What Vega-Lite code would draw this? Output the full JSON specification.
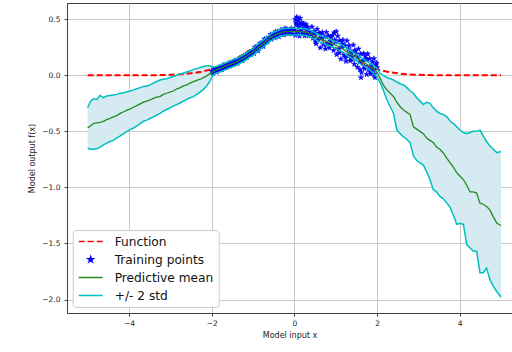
{
  "$schema": "https://vega.github.io/schema/vega-lite/v6.json",
  "width": 445,
  "height": 310,
  "autosize": {"type": "none"},
  "padding": {"left": 67, "top": 3, "right": 0, "bottom": 39},
  "background": "white",
  "datasets": {
    "curve": [
      {"x":-5.0,"lo":-0.65,"m":-0.47,"hi":-0.29},{"x":-4.93,"lo":-0.66,"m":-0.45,"hi":-0.23},{"x":-4.86,"lo":-0.66,"m":-0.43,"hi":-0.21},{"x":-4.78,"lo":-0.655,"m":-0.425,"hi":-0.215},{"x":-4.7,"lo":-0.64,"m":-0.42,"hi":-0.18},{"x":-4.62,"lo":-0.62,"m":-0.41,"hi":-0.2},{"x":-4.54,"lo":-0.605,"m":-0.395,"hi":-0.185},{"x":-4.46,"lo":-0.59,"m":-0.385,"hi":-0.18},{"x":-4.38,"lo":-0.58,"m":-0.37,"hi":-0.175},{"x":-4.3,"lo":-0.56,"m":-0.36,"hi":-0.17},{"x":-4.21,"lo":-0.54,"m":-0.34,"hi":-0.16},{"x":-4.13,"lo":-0.52,"m":-0.325,"hi":-0.155},{"x":-4.05,"lo":-0.5,"m":-0.31,"hi":-0.146},{"x":-3.97,"lo":-0.485,"m":-0.3,"hi":-0.14},{"x":-3.89,"lo":-0.47,"m":-0.285,"hi":-0.13},{"x":-3.81,"lo":-0.45,"m":-0.27,"hi":-0.12},{"x":-3.73,"lo":-0.43,"m":-0.255,"hi":-0.11},{"x":-3.65,"lo":-0.41,"m":-0.24,"hi":-0.1},{"x":-3.57,"lo":-0.4,"m":-0.23,"hi":-0.095},{"x":-3.49,"lo":-0.385,"m":-0.22,"hi":-0.085},{"x":-3.41,"lo":-0.37,"m":-0.205,"hi":-0.07},{"x":-3.33,"lo":-0.355,"m":-0.195,"hi":-0.055},{"x":-3.25,"lo":-0.34,"m":-0.19,"hi":-0.042},{"x":-3.17,"lo":-0.32,"m":-0.17,"hi":-0.035},{"x":-3.09,"lo":-0.305,"m":-0.16,"hi":-0.03},{"x":-3.01,"lo":-0.29,"m":-0.15,"hi":-0.02},{"x":-2.93,"lo":-0.275,"m":-0.14,"hi":-0.01},{"x":-2.84,"lo":-0.26,"m":-0.12,"hi":0.003},{"x":-2.76,"lo":-0.245,"m":-0.11,"hi":0.012},{"x":-2.68,"lo":-0.23,"m":-0.095,"hi":0.02},{"x":-2.6,"lo":-0.215,"m":-0.085,"hi":0.03},{"x":-2.52,"lo":-0.2,"m":-0.07,"hi":0.04},{"x":-2.44,"lo":-0.19,"m":-0.057,"hi":0.053},{"x":-2.36,"lo":-0.17,"m":-0.045,"hi":0.06},{"x":-2.28,"lo":-0.15,"m":-0.035,"hi":0.07},{"x":-2.2,"lo":-0.125,"m":-0.02,"hi":0.078},{"x":-2.12,"lo":-0.095,"m":-0.005,"hi":0.085},{"x":-2.04,"lo":-0.05,"m":0.015,"hi":0.085},{"x":-1.96,"lo":0.005,"m":0.035,"hi":0.07},{"x":-1.88,"lo":0.022,"m":0.05,"hi":0.08},{"x":-1.8,"lo":0.03,"m":0.06,"hi":0.09},
      {"x":-1.7,"lo":0.045,"m":0.075,"hi":0.105},{"x":-1.6,"lo":0.06,"m":0.09,"hi":0.12},{"x":-1.5,"lo":0.075,"m":0.105,"hi":0.135},{"x":-1.4,"lo":0.09,"m":0.12,"hi":0.15},{"x":-1.3,"lo":0.11,"m":0.14,"hi":0.17},{"x":-1.2,"lo":0.13,"m":0.16,"hi":0.19},{"x":-1.1,"lo":0.155,"m":0.185,"hi":0.215},{"x":-1.0,"lo":0.18,"m":0.21,"hi":0.24},{"x":-0.9,"lo":0.21,"m":0.24,"hi":0.27},{"x":-0.8,"lo":0.24,"m":0.27,"hi":0.3},{"x":-0.7,"lo":0.27,"m":0.3,"hi":0.33},{"x":-0.6,"lo":0.3,"m":0.33,"hi":0.36},{"x":-0.5,"lo":0.325,"m":0.355,"hi":0.385},{"x":-0.4,"lo":0.34,"m":0.37,"hi":0.4},{"x":-0.3,"lo":0.355,"m":0.385,"hi":0.415},{"x":-0.2,"lo":0.36,"m":0.39,"hi":0.42},{"x":-0.1,"lo":0.36,"m":0.39,"hi":0.42},{"x":0.0,"lo":0.36,"m":0.39,"hi":0.42},{"x":0.1,"lo":0.36,"m":0.39,"hi":0.42},{"x":0.2,"lo":0.358,"m":0.388,"hi":0.418},{"x":0.3,"lo":0.354,"m":0.384,"hi":0.414},{"x":0.4,"lo":0.34,"m":0.37,"hi":0.4},{"x":0.5,"lo":0.32,"m":0.35,"hi":0.38},{"x":0.6,"lo":0.3,"m":0.33,"hi":0.36},{"x":0.7,"lo":0.285,"m":0.315,"hi":0.345},{"x":0.8,"lo":0.27,"m":0.3,"hi":0.33},{"x":0.9,"lo":0.255,"m":0.285,"hi":0.315},{"x":1.0,"lo":0.24,"m":0.27,"hi":0.3},{"x":1.1,"lo":0.22,"m":0.25,"hi":0.28},{"x":1.2,"lo":0.2,"m":0.23,"hi":0.26},{"x":1.3,"lo":0.17,"m":0.2,"hi":0.23},{"x":1.4,"lo":0.15,"m":0.18,"hi":0.21},{"x":1.5,"lo":0.13,"m":0.16,"hi":0.19},{"x":1.6,"lo":0.1,"m":0.13,"hi":0.16},{"x":1.7,"lo":0.08,"m":0.11,"hi":0.14},{"x":1.8,"lo":0.055,"m":0.085,"hi":0.115},{"x":1.9,"lo":0.025,"m":0.06,"hi":0.09},{"x":1.98,"lo":-0.005,"m":0.035,"hi":0.07},
      {"x":2.07,"lo":-0.06,"m":-0.02,"hi":0.018},{"x":2.15,"lo":-0.13,"m":-0.086,"hi":0.0},{"x":2.24,"lo":-0.22,"m":-0.13,"hi":-0.02},{"x":2.32,"lo":-0.28,"m":-0.16,"hi":-0.03},{"x":2.4,"lo":-0.34,"m":-0.19,"hi":-0.042},{"x":2.48,"lo":-0.49,"m":-0.24,"hi":-0.06},{"x":2.56,"lo":-0.52,"m":-0.28,"hi":-0.075},{"x":2.64,"lo":-0.55,"m":-0.31,"hi":-0.086},{"x":2.72,"lo":-0.57,"m":-0.33,"hi":-0.11},{"x":2.8,"lo":-0.6,"m":-0.35,"hi":-0.14},{"x":2.88,"lo":-0.72,"m":-0.46,"hi":-0.16},{"x":2.96,"lo":-0.76,"m":-0.48,"hi":-0.2},{"x":3.04,"lo":-0.78,"m":-0.5,"hi":-0.23},{"x":3.12,"lo":-0.8,"m":-0.52,"hi":-0.26},{"x":3.2,"lo":-0.86,"m":-0.56,"hi":-0.24},{"x":3.28,"lo":-0.93,"m":-0.58,"hi":-0.25},{"x":3.36,"lo":-1.02,"m":-0.6,"hi":-0.29},{"x":3.44,"lo":-1.04,"m":-0.64,"hi":-0.32},{"x":3.52,"lo":-1.08,"m":-0.66,"hi":-0.34},{"x":3.6,"lo":-1.1,"m":-0.69,"hi":-0.35},{"x":3.69,"lo":-1.14,"m":-0.74,"hi":-0.37},{"x":3.77,"lo":-1.18,"m":-0.78,"hi":-0.41},{"x":3.85,"lo":-1.25,"m":-0.82,"hi":-0.43},{"x":3.93,"lo":-1.33,"m":-0.87,"hi":-0.46},{"x":4.01,"lo":-1.32,"m":-0.9,"hi":-0.49},{"x":4.09,"lo":-1.33,"m":-0.93,"hi":-0.51},{"x":4.17,"lo":-1.51,"m":-0.98,"hi":-0.52},{"x":4.25,"lo":-1.54,"m":-1.04,"hi":-0.51},{"x":4.33,"lo":-1.57,"m":-1.04,"hi":-0.5},{"x":4.41,"lo":-1.57,"m":-1.05,"hi":-0.5},{"x":4.49,"lo":-1.76,"m":-1.14,"hi":-0.49},{"x":4.57,"lo":-1.76,"m":-1.15,"hi":-0.54},{"x":4.65,"lo":-1.72,"m":-1.17,"hi":-0.59},{"x":4.73,"lo":-1.82,"m":-1.2,"hi":-0.63},{"x":4.81,"lo":-1.88,"m":-1.26,"hi":-0.66},{"x":4.9,"lo":-1.93,"m":-1.32,"hi":-0.69},{"x":5.0,"lo":-1.98,"m":-1.34,"hi":-0.68}
    ],
    "func": [
      {"x":-5,"f":0.0},{"x":-4.5,"f":0.0},{"x":-4,"f":0.0001},{"x":-3.5,"f":0.0009},{"x":-3.25,"f":0.002},{"x":-3,"f":0.0044},{"x":-2.75,"f":0.0091},{"x":-2.5,"f":0.0175},{"x":-2.25,"f":0.0317},{"x":-2,"f":0.054},{"x":-1.75,"f":0.0863},{"x":-1.5,"f":0.1295},{"x":-1.25,"f":0.1826},{"x":-1,"f":0.242},{"x":-0.75,"f":0.3011},{"x":-0.5,"f":0.3521},{"x":-0.25,"f":0.3867},{"x":0,"f":0.3989},{"x":0.25,"f":0.3867},{"x":0.5,"f":0.3521},{"x":0.75,"f":0.3011},{"x":1,"f":0.242},{"x":1.25,"f":0.1826},{"x":1.5,"f":0.1295},{"x":1.75,"f":0.0863},{"x":2,"f":0.054},{"x":2.25,"f":0.0317},{"x":2.5,"f":0.0175},{"x":2.75,"f":0.0091},{"x":3,"f":0.0044},{"x":3.25,"f":0.002},{"x":3.5,"f":0.0009},{"x":4,"f":0.0001},{"x":4.5,"f":0.0},{"x":5,"f":0.0}
    ],
    "train": [
      {"x":-2.0,"y":0.036},{"x":-1.975,"y":0.018},{"x":-1.95,"y":0.056},{"x":-1.925,"y":0.037},{"x":-1.9,"y":0.057},{"x":-1.875,"y":0.029},{"x":-1.85,"y":0.055},{"x":-1.825,"y":0.072},{"x":-1.8,"y":0.05},{"x":-1.775,"y":0.072},
      {"x":-1.75,"y":0.05},{"x":-1.725,"y":0.091},{"x":-1.7,"y":0.069},{"x":-1.675,"y":0.093},{"x":-1.65,"y":0.071},{"x":-1.625,"y":0.09},{"x":-1.6,"y":0.088},{"x":-1.575,"y":0.113},{"x":-1.55,"y":0.084},{"x":-1.525,"y":0.111},
      {"x":-1.5,"y":0.111},{"x":-1.475,"y":0.093},{"x":-1.45,"y":0.131},{"x":-1.425,"y":0.112},{"x":-1.4,"y":0.132},{"x":-1.375,"y":0.105},{"x":-1.35,"y":0.132},{"x":-1.325,"y":0.151},{"x":-1.3,"y":0.13},{"x":-1.275,"y":0.153},
      {"x":-1.25,"y":0.132},{"x":-1.225,"y":0.175},{"x":-1.2,"y":0.154},{"x":-1.175,"y":0.18},{"x":-1.15,"y":0.161},{"x":-1.125,"y":0.183},{"x":-1.1,"y":0.183},{"x":-1.075,"y":0.21},{"x":-1.05,"y":0.184},{"x":-1.025,"y":0.214},
      {"x":-1.0,"y":0.219},{"x":-0.975,"y":0.194},{"x":-0.95,"y":0.252},{"x":-0.925,"y":0.227},{"x":-0.9,"y":0.258},{"x":-0.875,"y":0.218},{"x":-0.85,"y":0.258},{"x":-0.825,"y":0.287},{"x":-0.8,"y":0.255},{"x":-0.775,"y":0.29},
      {"x":-0.75,"y":0.258},{"x":-0.725,"y":0.323},{"x":-0.7,"y":0.291},{"x":-0.675,"y":0.329},{"x":-0.65,"y":0.297},{"x":-0.625,"y":0.329},{"x":-0.6,"y":0.327},{"x":-0.575,"y":0.365},{"x":-0.55,"y":0.322},{"x":-0.525,"y":0.364},
      {"x":-0.5,"y":0.364},{"x":-0.475,"y":0.335},{"x":-0.45,"y":0.39},{"x":-0.425,"y":0.36},{"x":-0.4,"y":0.388},{"x":-0.375,"y":0.344},{"x":-0.35,"y":0.381},{"x":-0.325,"y":0.405},{"x":-0.3,"y":0.37},{"x":-0.275,"y":0.398},
      {"x":-0.25,"y":0.361},{"x":-0.225,"y":0.419},{"x":-0.2,"y":0.381},{"x":-0.175,"y":0.411},{"x":-0.15,"y":0.372},{"x":-0.125,"y":0.396},{"x":-0.1,"y":0.387},{"x":-0.075,"y":0.419},{"x":-0.05,"y":0.369},{"x":-0.025,"y":0.405},
      {"x":0.0,"y":0.411},{"x":0.025,"y":0.358},{"x":0.05,"y":0.453},{"x":0.075,"y":0.382},{"x":0.1,"y":0.432},{"x":0.125,"y":0.35},{"x":0.15,"y":0.397},{"x":0.175,"y":0.446},{"x":0.2,"y":0.37},{"x":0.225,"y":0.417},
      {"x":0.25,"y":0.352},{"x":0.275,"y":0.456},{"x":0.3,"y":0.373},{"x":0.325,"y":0.43},{"x":0.35,"y":0.353},{"x":0.375,"y":0.388},{"x":0.4,"y":0.366},{"x":0.425,"y":0.432},{"x":0.45,"y":0.332},{"x":0.475,"y":0.39},
      {"x":0.5,"y":0.374},{"x":0.525,"y":0.281},{"x":0.55,"y":0.412},{"x":0.575,"y":0.319},{"x":0.6,"y":0.378},{"x":0.625,"y":0.246},{"x":0.65,"y":0.331},{"x":0.675,"y":0.383},{"x":0.7,"y":0.275},{"x":0.725,"y":0.343},
      {"x":0.75,"y":0.236},{"x":0.775,"y":0.384},{"x":0.8,"y":0.276},{"x":0.825,"y":0.352},{"x":0.85,"y":0.245},{"x":0.875,"y":0.305},{"x":0.9,"y":0.277},{"x":0.925,"y":0.357},{"x":0.95,"y":0.222},{"x":0.975,"y":0.314},
      {"x":1.0,"y":0.3},{"x":1.025,"y":0.185},{"x":1.05,"y":0.35},{"x":1.075,"y":0.235},{"x":1.1,"y":0.31},{"x":1.125,"y":0.145},{"x":1.15,"y":0.25},{"x":1.175,"y":0.315},{"x":1.2,"y":0.18},{"x":1.225,"y":0.263},
      {"x":1.25,"y":0.125},{"x":1.275,"y":0.308},{"x":1.3,"y":0.17},{"x":1.325,"y":0.265},{"x":1.35,"y":0.13},{"x":1.375,"y":0.205},{"x":1.4,"y":0.17},{"x":1.425,"y":0.27},{"x":1.45,"y":0.1},{"x":1.475,"y":0.215},
      {"x":1.5,"y":0.19},{"x":1.525,"y":0.073},{"x":1.55,"y":0.235},{"x":1.575,"y":0.118},{"x":1.6,"y":0.19},{"x":1.625,"y":0.025},{"x":1.65,"y":0.13},{"x":1.675,"y":0.195},{"x":1.7,"y":0.06},{"x":1.725,"y":0.144},
      {"x":1.75,"y":0.008},{"x":1.775,"y":0.191},{"x":1.8,"y":0.055},{"x":1.825,"y":0.149},{"x":1.85,"y":0.013},{"x":1.875,"y":0.086},{"x":1.9,"y":0.05},{"x":1.925,"y":0.15},{"x":1.95,"y":-0.02},{"x":1.975,"y":0.095},
      {"x":2.0,"y":0.07},
      {"x":0.06,"y":0.52},{"x":0.02,"y":0.5},{"x":0.1,"y":0.49},{"x":0.14,"y":0.51},{"x":0.18,"y":0.47},{"x":0.22,"y":0.46},{"x":0.27,"y":0.44},{"x":0.31,"y":0.41},{"x":0.04,"y":0.47},{"x":0.12,"y":0.46},
      {"x":0.5125,"y":0.3},{"x":0.6375,"y":0.36},{"x":0.7625,"y":0.28},{"x":0.8875,"y":0.34},{"x":0.9625,"y":0.38},{"x":1.0125,"y":0.39},{"x":1.0875,"y":0.2},{"x":1.1625,"y":0.28},{"x":1.2375,"y":0.16},{"x":1.3125,"y":0.23},
      {"x":1.3875,"y":0.14},{"x":1.4625,"y":0.22},{"x":1.5375,"y":0.16},{"x":1.6125,"y":-0.02},{"x":1.6875,"y":0.08},{"x":1.7625,"y":0.14},{"x":1.8375,"y":0.03},{"x":1.8875,"y":0.12},{"x":1.9375,"y":0.01},{"x":1.9875,"y":0.11},
      {"x":1.5875,"y":0.05},{"x":1.7125,"y":0.17}
    ]
  },
  "encoding": {
    "x": {
      "field": "x", "type": "quantitative",
      "scale": {"domain": [-5.5, 5.265], "nice": false, "zero": false},
      "axis": {"values": [-4, -2, 0, 2, 4], "format": "d", "title": "Model input x", "labelPadding": 3, "titlePadding": 5}
    }
  },
  "layer": [
    {
      "data": {"name": "curve"},
      "mark": {"type": "area", "color": "#d5eaf1", "opacity": 1},
      "encoding": {
        "y": {"field": "lo", "type": "quantitative", "title": "Model output f(x)",
              "scale": {"domain": [-2.12, 0.645], "nice": false, "zero": false},
              "axis": {"values": [-2, -1.5, -1, -0.5, 0, 0.5], "format": ".1f", "labelPadding": 4, "titlePadding": 5}},
        "y2": {"field": "hi"}
      }
    },
    {
      "data": {"name": "func"},
      "mark": {"type": "line", "color": "#ff0000", "strokeWidth": 2, "strokeDash": [6, 3]},
      "encoding": {"y": {"field": "f", "type": "quantitative", "title": "Model output f(x)"}}
    },
    {
      "data": {"name": "train"},
      "transform": [{"calculate": "'Training points'", "as": "s"}],
      "mark": {"type": "point", "filled": true, "opacity": 1, "size": 576, "strokeWidth": 0.6},
      "encoding": {
        "y": {"field": "y", "type": "quantitative", "title": "Model output f(x)"},
        "fill": {"field": "s", "type": "nominal",
                 "scale": {"domain": ["Function", "Training points", "Predictive mean", "+/- 2 std"], "range": ["#ff0000", "#0000ff", "#228b22", "#00bfbf"]},
                 "legend": {"title": null}},
        "stroke": {"field": "s", "type": "nominal",
                 "scale": {"domain": ["Function", "Training points", "Predictive mean", "+/- 2 std"], "range": ["#ff0000", "#0000ff", "#228b22", "#00bfbf"]},
                 "legend": {"title": null}},
        "shape": {"field": "s", "type": "nominal",
                 "scale": {"domain": ["Function", "Training points", "Predictive mean", "+/- 2 std"], "range": ["stroke", "M0,-0.23L0.0517,-0.0711L0.2187,-0.0711L0.0836,0.0272L0.1352,0.1861L0,0.0879L-0.1352,0.1861L-0.0836,0.0272L-0.2187,-0.0711L-0.0517,-0.0711Z", "stroke", "stroke"]},
                 "legend": {"title": null}},
        "strokeDash": {"field": "s", "type": "nominal",
                 "scale": {"domain": ["Function", "Training points", "Predictive mean", "+/- 2 std"], "range": [[6, 3], [1, 0], [1, 0], [1, 0]]},
                 "legend": {"title": null}}
      }
    },
    {
      "data": {"name": "curve"},
      "mark": {"type": "line", "color": "#228b22", "strokeWidth": 1.3},
      "encoding": {"y": {"field": "m", "type": "quantitative", "title": "Model output f(x)"}}
    },
    {
      "data": {"name": "curve"},
      "mark": {"type": "line", "color": "#00bfbf", "strokeWidth": 1.5},
      "encoding": {"y": {"field": "hi", "type": "quantitative", "title": "Model output f(x)"}}
    },
    {
      "data": {"name": "curve"},
      "mark": {"type": "line", "color": "#00bfbf", "strokeWidth": 1.5},
      "encoding": {"y": {"field": "lo", "type": "quantitative", "title": "Model output f(x)"}}
    }
  ],
  "config": {
    "font": "DejaVu Sans",
    "view": {"stroke": "#404040", "strokeWidth": 1},
    "axis": {
      "labelFont": "DejaVu Sans", "labelFontSize": 7.5, "labelColor": "#222222",
      "titleFont": "DejaVu Sans", "titleFontSize": 8, "titleFontWeight": "normal", "titleColor": "#222222",
      "domainColor": "#404040", "tickColor": "#404040", "tickSize": 3,
      "gridColor": "#c8c8c8", "gridWidth": 1
    },
    "legend": {
      "orient": "none", "legendX": 5.7, "legendY": 227,
      "padding": 5, "fillColor": "white", "strokeColor": "#cccccc", "cornerRadius": 3,
      "labelFont": "DejaVu Sans", "labelFontSize": 12.2, "labelColor": "#111111",
      "symbolSize": 576, "symbolStrokeWidth": 1.5, "labelOffset": 11,
      "rowPadding": 5, "clipHeight": 13
    }
  }
}
